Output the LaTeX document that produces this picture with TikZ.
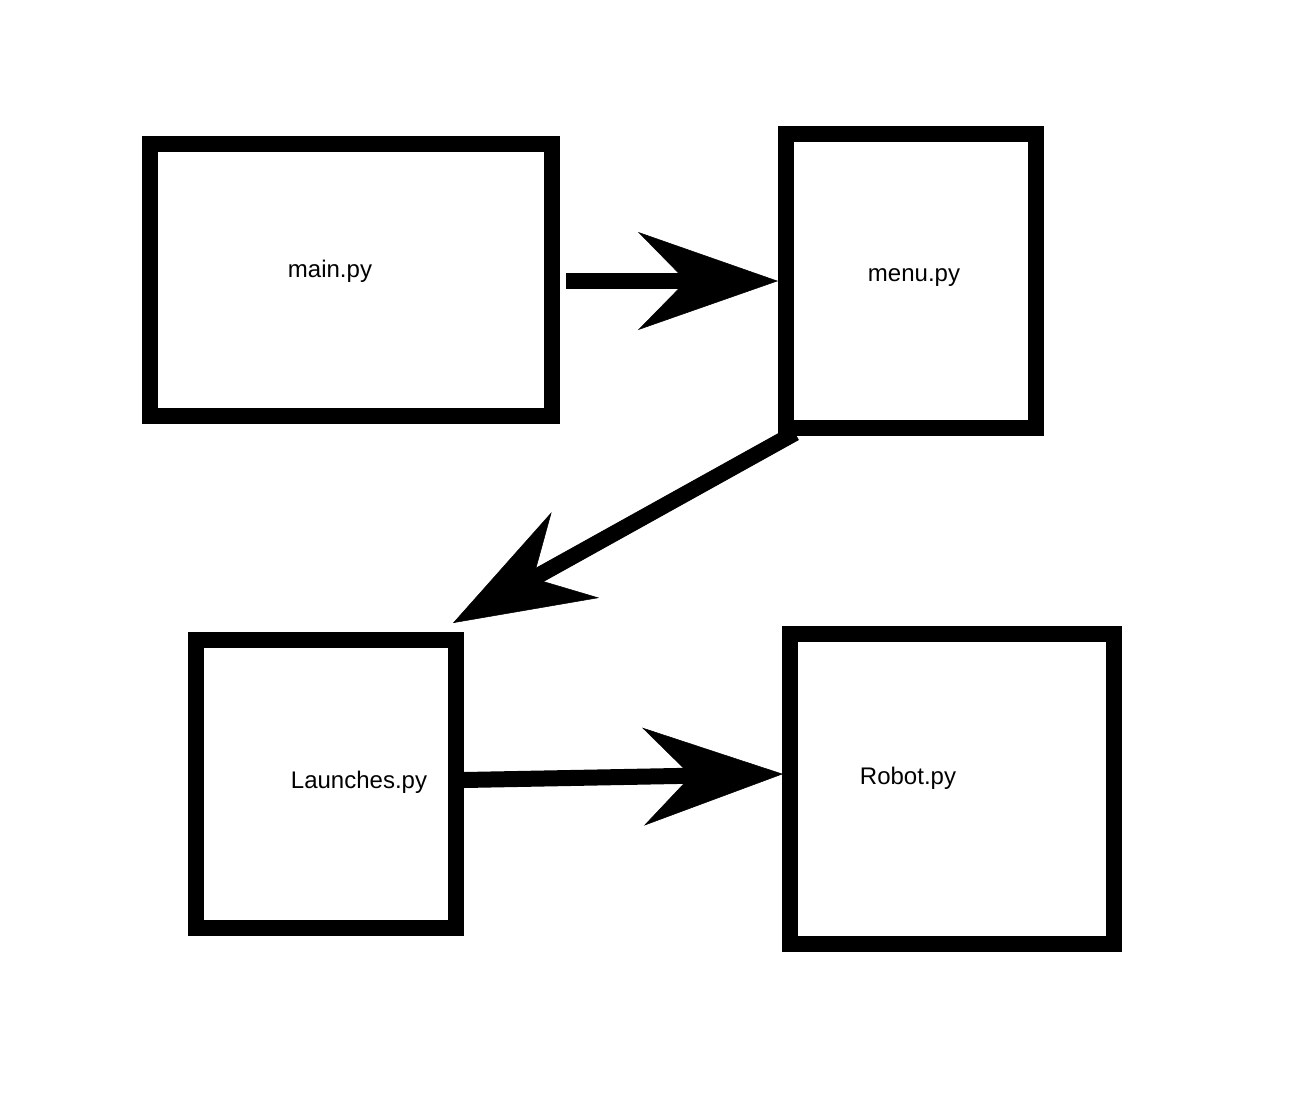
\documentclass[tikz,border=0pt]{standalone}
\usepackage{fontspec}
\setmainfont{Liberation Sans}
\usetikzlibrary{positioning, arrows.meta}

\tikzset{
  filebox/.style={draw, line width=16pt, inner sep=0pt},
  filename/.style={anchor=base, inner sep=0pt, font=\fontsize{24}{28}\selectfont},
  calls/.style={line width=16pt, -{Stealth[length=140pt, width=98pt, inset=48pt, line width=0.5pt]}}
}

\begin{document}
\begin{tikzpicture}[x=1pt, y=-1pt]
  \useasboundingbox[fill=white] (0,0) rectangle (1294,1114);

  % boxes
  \node[filebox, minimum width=402pt, minimum height=272pt] (main) at (351,280) {};
  \node[filebox, minimum width=250pt, minimum height=294pt] (menu) at (911,281) {};
  \node[filebox, minimum width=260pt, minimum height=288pt] (launches) at (326,784) {};
  \node[filebox, minimum width=324pt, minimum height=310pt] (robot) at (952,789) {};

  % labels
  \node[filename] (mainlbl) at (330,277) {main.py};
  \node[filename] (menulbl) at (914,281) {menu.py};
  \node[filename] (launcheslbl) at (359,788) {Launches.py};
  \node[filename] (robotlbl) at (908,784) {Robot.py};

  % arrows
  \draw[calls] ([shift={(6,1)}]main.east) -- (menu.west);
  \draw[calls] ([shift={(17,-3)}]menu.south west) -- ([shift={(-11,-9)}]launches.north east);
  \draw[calls] ([shift={(0,-4)}]launches.east) -- ([shift={(1,-15)}]robot.west);
\end{tikzpicture}
\end{document}
